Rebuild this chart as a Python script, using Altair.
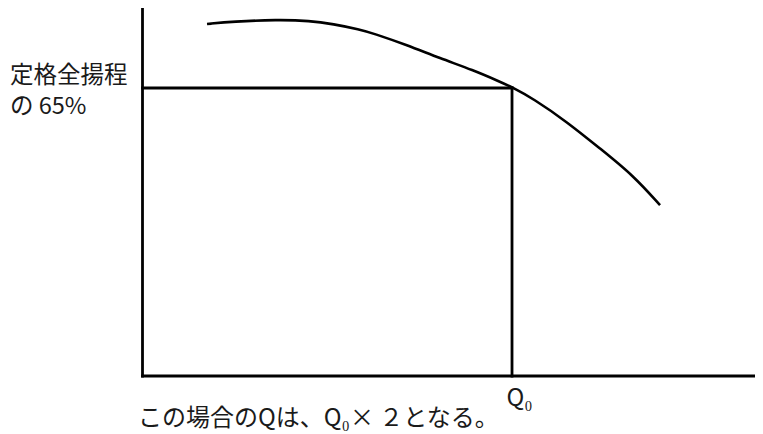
import altair as alt
import pandas as pd

# Pump curve (flow Q in units of Q0, head in % of rated total head)
curve_q = [0.1746, 0.2449, 0.3640, 0.4533, 0.5156, 0.5886, 0.6238, 0.7158, 0.8051, 0.8945, 0.9675, 1.0,
           1.0568, 1.1489, 1.2381, 1.3275, 1.4006]
curve_h = [79.44, 80.00, 80.41, 80.18, 79.44, 78.20, 77.34, 74.69, 71.69, 69.05, 66.40, 65.2,
           62.63, 57.35, 51.34, 45.32, 38.55]

q0 = 1.0
h65 = 65.0
x_min, x_max = -0.364, 1.6576
y_min, y_max = -13.09, 83.05
y_axis_top = 82.8

label_left = ["定格全揚程", "の 65%"]
label_left_h = [67.6, 60.6]
q0_label = "Q₀"
bottom_label = "この場合のQは、Q₀× ２となる。"

FONT = "Noto Sans CJK JP"
xs = alt.Scale(domain=[x_min, x_max], nice=False, zero=False)
ys = alt.Scale(domain=[y_min, y_max], nice=False, zero=False)

curve_df = pd.DataFrame({"q": curve_q, "h": curve_h})
curve = alt.Chart(curve_df).mark_line(color="black", strokeWidth=2.6, interpolate="basis").encode(
    x=alt.X("q:Q", scale=xs, axis=None),
    y=alt.Y("h:Q", scale=ys, axis=None),
)

rules_df = pd.DataFrame({
    "x": [0.0, 0.0, 0.0, q0],
    "x2": [0.0, x_max, q0, q0],
    "y": [0.0, 0.0, h65, 0.0],
    "y2": [y_axis_top, 0.0, h65, h65],
})
rules = alt.Chart(rules_df).mark_rule(color="black", strokeWidth=2.8, strokeCap="square").encode(
    x=alt.X("x:Q", scale=xs, axis=None), x2="x2:Q",
    y=alt.Y("y:Q", scale=ys, axis=None), y2="y2:Q",
)

left_df = pd.DataFrame({"q": [-0.3586, -0.3586], "h": label_left_h, "t": label_left})
left_txt = alt.Chart(left_df).mark_text(align="left", baseline="middle", font=FONT, fontSize=23.5, color="#1a1a1a").encode(
    x=alt.X("q:Q", scale=xs, axis=None), y=alt.Y("h:Q", scale=ys, axis=None), text="t:N"
)

q0_df = pd.DataFrame({"q": [0.985], "h": [-5.2], "t": [q0_label]})
q0_txt = alt.Chart(q0_df).mark_text(align="left", baseline="middle", font=FONT, fontSize=24, color="#1a1a1a").encode(
    x=alt.X("q:Q", scale=xs, axis=None), y=alt.Y("h:Q", scale=ys, axis=None), text="t:N"
)

bot_df = pd.DataFrame({"q": [-0.0122], "h": [-9.6], "t": [bottom_label]})
bot_txt = alt.Chart(bot_df).mark_text(align="left", baseline="middle", font=FONT, fontSize=24, color="#1a1a1a").encode(
    x=alt.X("q:Q", scale=xs, axis=None), y=alt.Y("h:Q", scale=ys, axis=None), text="t:N"
)

chart = alt.layer(rules, curve, left_txt, q0_txt, bot_txt).properties(
    width=747, height=426, padding=0, autosize=alt.AutoSizeParams(type="none"), background="white"
).configure_view(strokeWidth=0)

chart.save("out.html", embed_options={"renderer": "svg", "actions": False})
